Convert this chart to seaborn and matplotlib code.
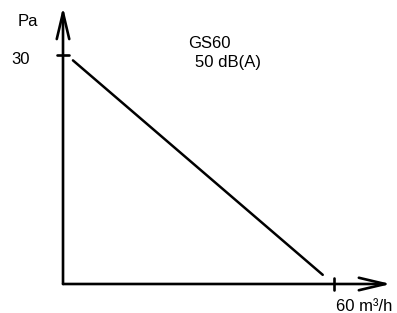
import matplotlib
matplotlib.use('Agg')
import matplotlib.pyplot as plt
import seaborn as sns
import pandas as pd

# fan curve GS60
flow = [2.2, 57.5]          # m³/h
pressure = [29.3, 1.2]      # Pa
tick_x = [60]
tick_y = [30]
title_model = 'GS60'
title_noise = '50 dB(A)'

sns.set_theme(style='white')
plt.rcParams['font.family'] = ['Liberation Sans', 'DejaVu Sans']
plt.rcParams['text.color'] = 'black'

fig = plt.figure(figsize=(3.97, 3.13), dpi=100)
ax = fig.add_axes([0, 0, 1, 1])
ax.set_xlim(-13.95, 73.94)
ax.set_ylim(-3.80, 37.21)
ax.axis('off')

df = pd.DataFrame({'flow': flow, 'pressure': pressure})
sns.lineplot(data=df, x='flow', y='pressure', color='black', lw=1.8, ax=ax)

# axes drawn as arrows
arrow = dict(arrowstyle='->,head_length=1.9,head_width=0.45', lw=1.9,
             color='black', shrinkA=0, shrinkB=0, mutation_scale=10)
ax.annotate('', xy=(72.6, 0), xytext=(0, 0), arrowprops=arrow)
ax.annotate('', xy=(0, 36.3), xytext=(0, 0), arrowprops=arrow)

# tick marks
for tx in tick_x:
    ax.plot([tx, tx], [-0.75, 0.75], color='black', lw=1.9)
for ty in tick_y:
    ax.plot([-1.4, 1.4], [ty, ty], color='black', lw=1.9)

fs = 12
ax.text(-7.3, 28.8, f'{tick_y[0]}', ha='right', va='baseline', fontsize=fs, color='black')
ax.text(-10.0, 33.8, 'Pa', ha='left', va='baseline', fontsize=fs, color='black')
ax.text(60.4, -3.54, f'{tick_x[0]} m³/h', ha='left', va='baseline', fontsize=fs, color='black')
ax.text(27.7, 30.9, title_model, ha='left', va='baseline', fontsize=fs, color='black')
ax.text(29.2, 28.4, title_noise, ha='left', va='baseline', fontsize=fs, color='black')

fig.savefig('out.png', dpi=100)
